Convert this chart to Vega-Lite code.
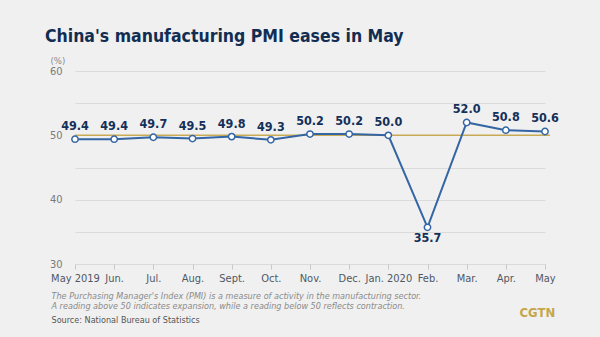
{
  "$schema": "https://vega.github.io/schema/vega-lite/v6.json",
  "width": 475,
  "height": 193,
  "autosize": "none",
  "padding": {"left": 75, "top": 71, "right": 50, "bottom": 73},
  "background": "#f0f0f0",
  "config": {"view": {"stroke": null}, "font": "DejaVu Sans Condensed, Roboto, sans-serif"},
  "title": {
    "text": "China's manufacturing PMI eases in May",
    "anchor": "start",
    "frame": "group",
    "dx": -30,
    "fontSize": 17.5,
    "fontWeight": "bold",
    "color": "#122d52",
    "font": "DejaVu Sans Condensed, Roboto, sans-serif",
    "offset": 10
  },
  "data": {
    "values": [
      {"month": "May 2019", "pmi": 49.4},
      {"month": "Jun.", "pmi": 49.4},
      {"month": "Jul.", "pmi": 49.7},
      {"month": "Aug.", "pmi": 49.5},
      {"month": "Sept.", "pmi": 49.8},
      {"month": "Oct.", "pmi": 49.3},
      {"month": "Nov.", "pmi": 50.2},
      {"month": "Dec.", "pmi": 50.2},
      {"month": "Jan. 2020", "pmi": 50.0},
      {"month": "Feb.", "pmi": 35.7},
      {"month": "Mar.", "pmi": 52.0},
      {"month": "Apr.", "pmi": 50.8},
      {"month": "May", "pmi": 50.6}
    ]
  },
  "resolve": {"axis": {"x": "independent", "y": "independent"}},
  "layer": [
    {
      "data": {"values": [{"ref": 50}]},
      "mark": {"type": "rule", "color": "#c8aa55", "strokeWidth": 1.5},
      "encoding": {
        "y": {
          "field": "ref",
          "type": "quantitative",
          "scale": {"domain": [30, 60], "nice": false},
          "axis": {
            "orient": "right",
            "labels": false, "ticks": false, "domain": false, "grid": false,
            "title": "CGTN",
            "titleAngle": 0,
            "titleX": -31,
            "titleY": 245,
            "titleAlign": "left",
            "titleBaseline": "alphabetic",
            "titleFontSize": 13,
            "titleFontWeight": "bold",
            "titleColor": "#c5a649"
          }
        }
      }
    },
    {
      "mark": {"type": "line", "color": "#3465a4", "strokeWidth": 2},
      "encoding": {
        "x": {
          "field": "month",
          "type": "ordinal",
          "sort": null,
          "scale": {"type": "point", "range": [0, 470], "padding": 0},
          "axis": {
            "orient": "bottom",
            "labelAngle": 0,
            "labelFontSize": 11,
            "labelColor": "#4f5866",
            "labelPadding": 3,
            "tickSize": 5,
            "tickColor": "#c8c8c8",
            "domain": false,
            "grid": false,
            "title": ["The Purchasing Manager's Index (PMI) is a measure of activity in the manufacturing sector.", "A reading above 50 indicates expansion, while a reading below 50 reflects contraction."],
            "titleFontStyle": "italic",
            "titleFontWeight": "normal",
            "titleFontSize": 9,
            "titleColor": "#8a8a8a",
            "titleAnchor": "start",
            "titleAlign": "left",
            "titleBaseline": "alphabetic",
            "titleX": -24,
            "titleY": 34,
            "titleLineHeight": 10.5
          }
        },
        "y": {
          "field": "pmi",
          "type": "quantitative",
          "scale": {"domain": [30, 60], "nice": false},
          "axis": {
            "orient": "left",
            "values": [30, 35, 40, 45, 50, 55, 60],
            "labelExpr": "datum.value % 10 == 0 ? datum.label : ''",
            "grid": true,
            "gridColor": "#dadada",
            "domain": false,
            "ticks": false,
            "labelFontSize": 11,
            "labelColor": "#7a7a7a",
            "labelPadding": 13,
            "title": "(%)",
            "titleAngle": 0,
            "titleX": -25,
            "titleY": -11,
            "titleAlign": "left",
            "titleBaseline": "middle",
            "titleFontSize": 9.5,
            "titleFontWeight": "normal",
            "titleColor": "#8a8a8a"
          }
        }
      }
    },
    {
      "mark": {"type": "point", "filled": true, "fill": "#ffffff", "stroke": "#3465a4", "strokeWidth": 1.5, "size": 40, "opacity": 1},
      "encoding": {
        "x": {"field": "month", "type": "ordinal", "sort": null, "axis": null},
        "y": {"field": "pmi", "type": "quantitative", "axis": null}
      }
    },
    {
      "transform": [{"filter": "datum.pmi >= 40"}],
      "mark": {"type": "text", "baseline": "alphabetic", "dy": -9, "fontSize": 12.5, "fontWeight": "bold", "color": "#14305a"},
      "encoding": {
        "x": {
          "field": "month", "type": "ordinal", "sort": null,
          "axis": {
            "orient": "bottom",
            "labels": false, "ticks": false, "domain": false, "grid": false,
            "title": "Source: National Bureau of Statistics",
            "titleFontSize": 9,
            "titleFontWeight": "normal",
            "titleColor": "#555555",
            "titleAnchor": "start",
            "titleAlign": "left",
            "titleBaseline": "alphabetic",
            "titleX": -24,
            "titleY": 58
          }
        },
        "y": {"field": "pmi", "type": "quantitative", "axis": null},
        "text": {"field": "pmi", "type": "quantitative", "format": ".1f"}
      }
    },
    {
      "transform": [{"filter": "datum.pmi < 40"}],
      "mark": {"type": "text", "baseline": "top", "dy": 5, "fontSize": 12.5, "fontWeight": "bold", "color": "#14305a"},
      "encoding": {
        "x": {"field": "month", "type": "ordinal", "sort": null, "axis": null},
        "y": {"field": "pmi", "type": "quantitative", "axis": null},
        "text": {"field": "pmi", "type": "quantitative", "format": ".1f"}
      }
    }
  ]
}
